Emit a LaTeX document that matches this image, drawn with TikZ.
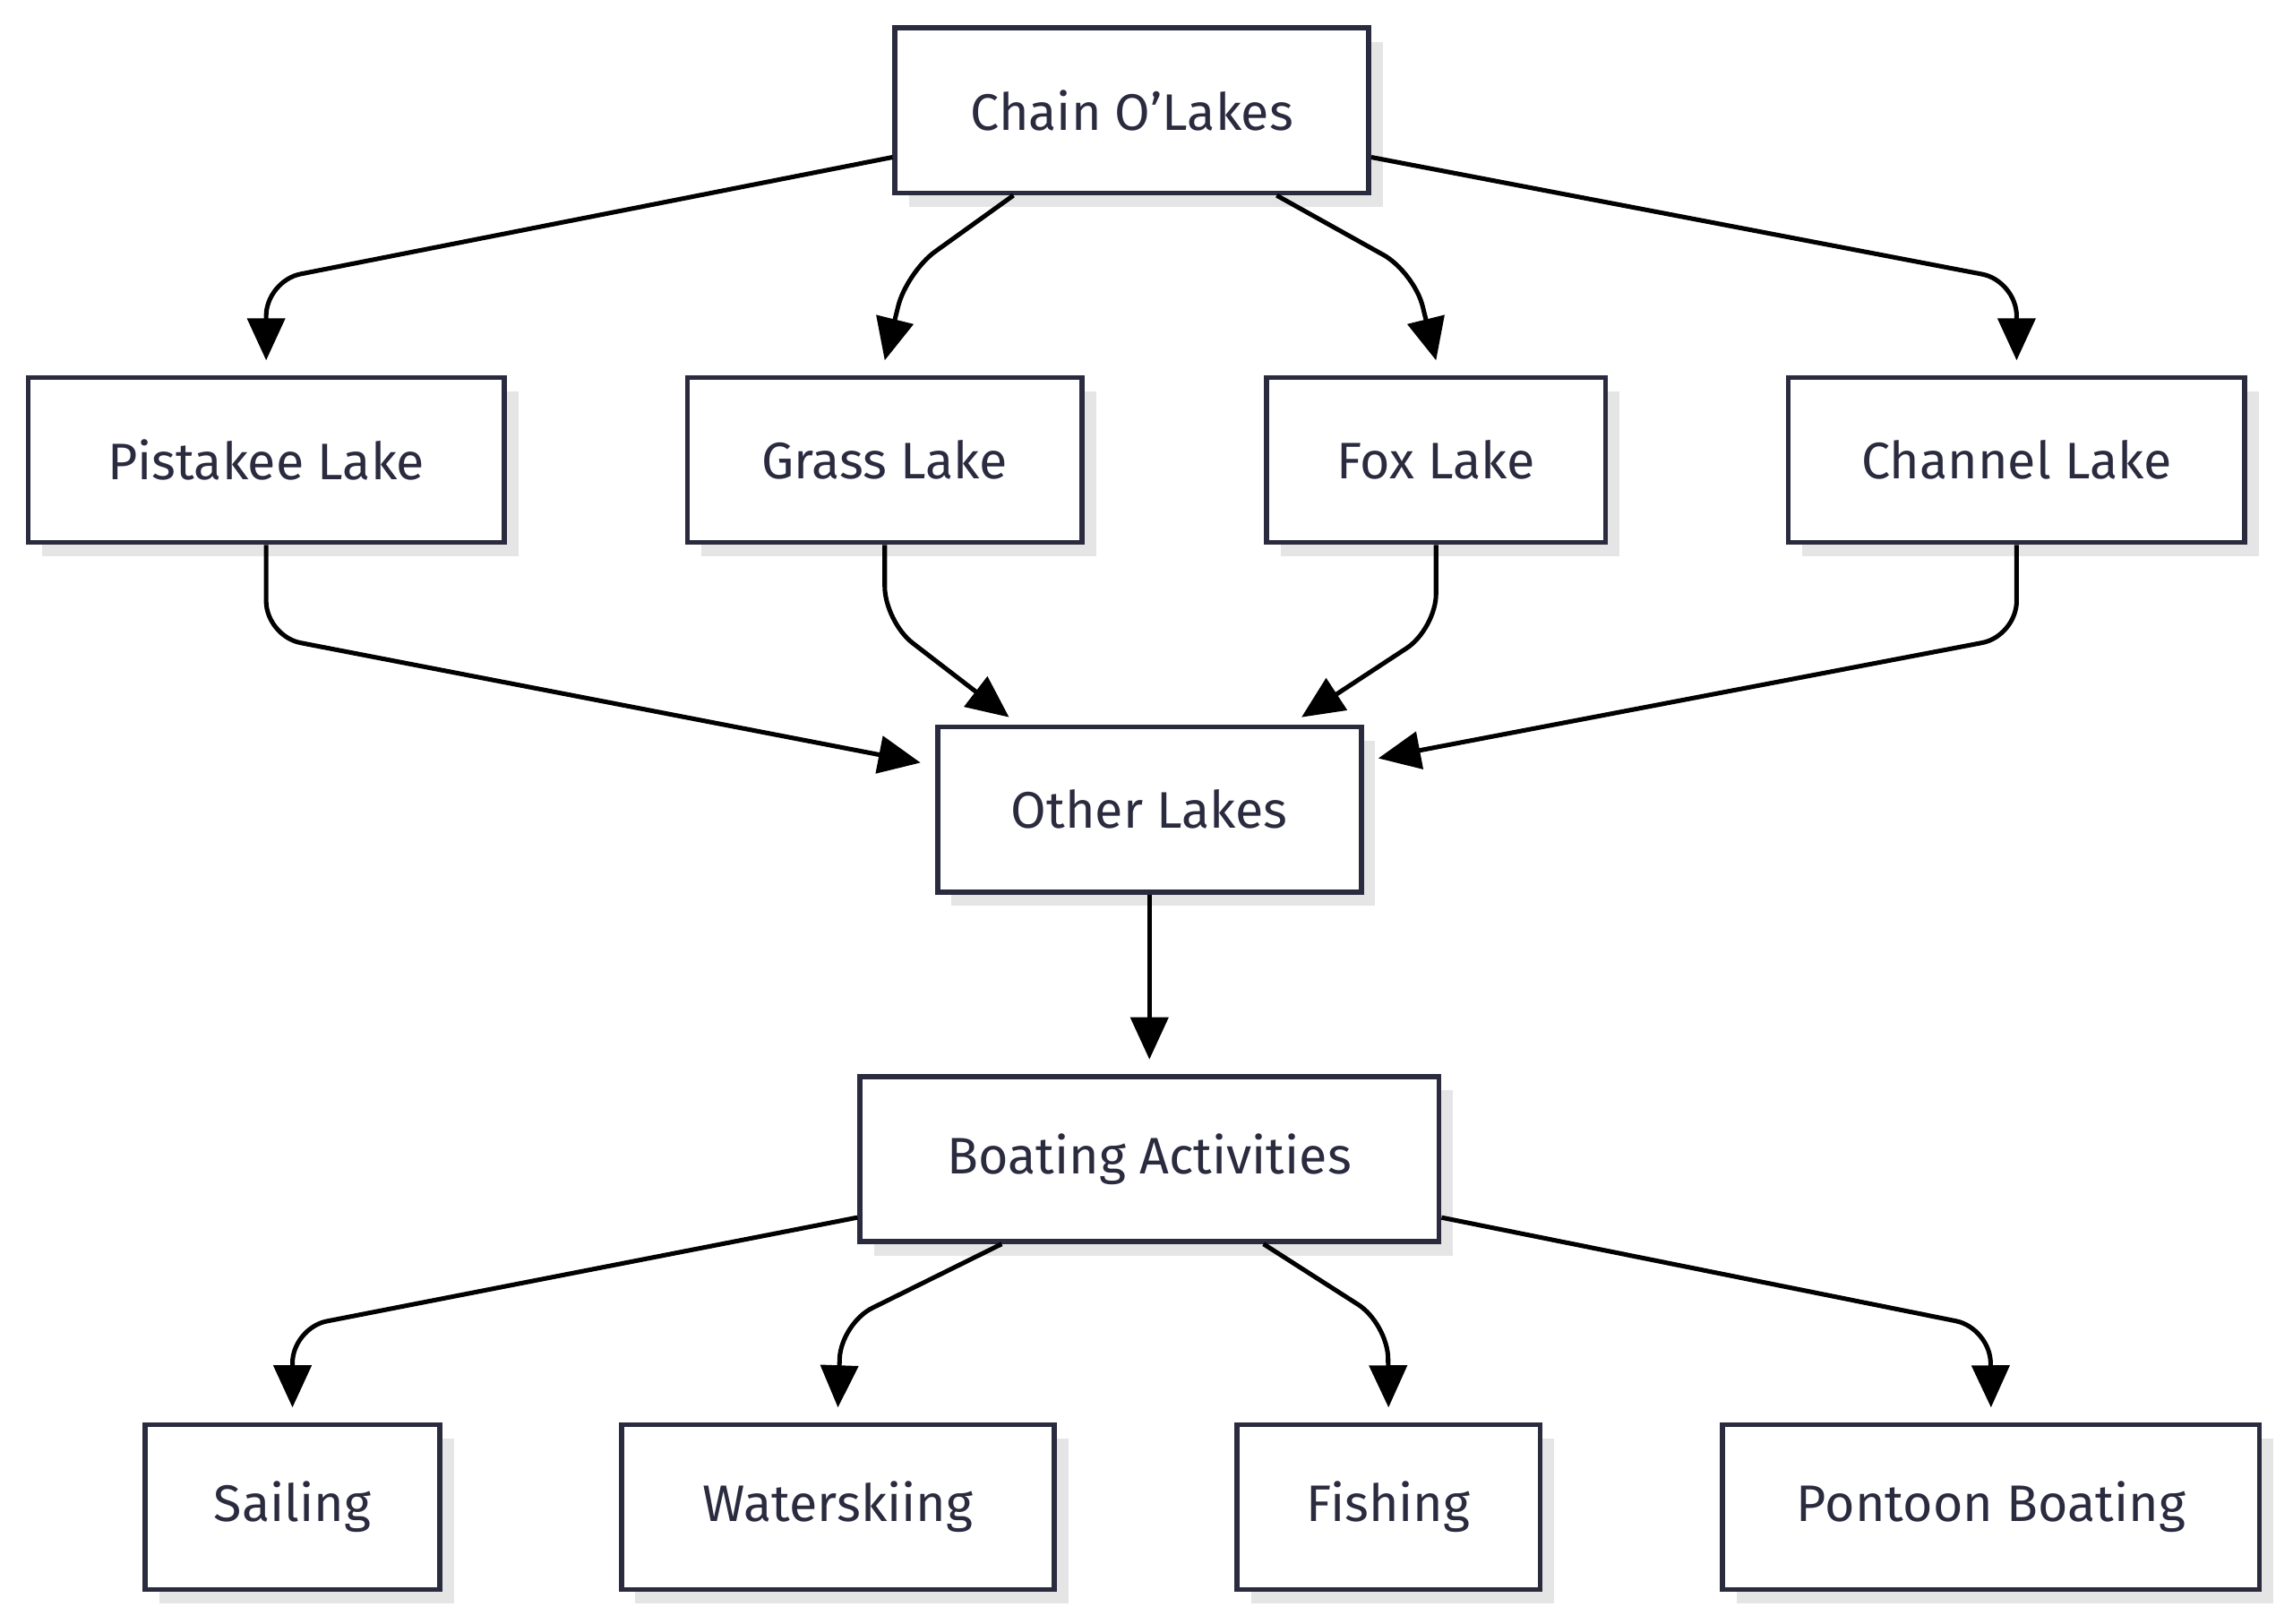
\documentclass[tikz,border=0pt]{standalone}
\usepackage{fontspec}
\setmainfont{Fira Sans}
\usetikzlibrary{calc,arrows.meta,shadows}
\definecolor{ink}{HTML}{2B2B40}
\begin{document}
\begin{tikzpicture}[x=0.0125cm,y=-0.0125cm,
  box/.style={draw=ink,line width=1.2pt,fill=white,minimum height=1.41cm,inner sep=0pt,
    font=\fontsize{12.5}{15}\selectfont,text=ink,
    drop shadow={shadow xshift=0.12cm,shadow yshift=-0.12cm,fill=black!10,opacity=1}},
  ar/.style={line width=1.1pt,rounded corners=0.3cm,-{Triangle[length=0.36cm,width=0.32cm]}}]
\useasboundingbox (0,0) rectangle (1568,1110);
\node[box,minimum width=4.05cm] (chain) at (774,75.5) {Chain O'Lakes};
\node[box,minimum width=4.07cm] (pist) at (182,314.5) {Pistakee Lake};
\node[box,minimum width=3.37cm] (grass) at (605,314.5) {Grass Lake};
\node[box,minimum width=2.9cm] (fox) at (982,314.5) {Fox Lake};
\node[box,minimum width=3.9cm] (chan) at (1379,314.5) {Channel Lake};
\node[box,minimum width=3.62cm] (other) at (786,553.5) {Other Lakes};
\node[box,minimum width=4.95cm] (boat) at (786,792.5) {Boating Activities};
\node[box,minimum width=2.52cm] (sail) at (200,1030.5) {Sailing};
\node[box,minimum width=3.7cm] (water) at (573,1030.5) {Waterskiing};
\node[box,minimum width=2.59cm] (fish) at (949.5,1030.5) {Fishing};
\node[box,minimum width=4.59cm] (pont) at (1361.5,1030.5) {Pontoon Boating};
\begin{scope}[every path/.style={ar}]
\draw ($(chain.west)+(0,32)$) -- (182,192) -- ($(pist.north)+(0,-10)$);
\draw ($(chain.south)+(-81,0)$) -- (620,186) -- ($(grass.north)+(0,-10)$);
\draw ($(chain.south)+(99,0)$) -- (967,186) -- ($(fox.north)+(0,-10)$);
\draw ($(chain.east)+(0,32)$) -- (1379,192) -- ($(chan.north)+(0,-10)$);
\draw (pist.south) -- (182,435) -- ($(other.west)+(-10,-32)$);
\draw (grass.south) -- (605,425) -- ($(other.north)+(-96,-5)$);
\draw (fox.south) -- (982,430) -- ($(other.north)+(104,-5)$);
\draw (chan.south) -- (1379,435) -- ($(other.east)+(10,-35)$);
\draw (other.south) -- ($(boat.north)+(0,-10)$);
\draw ($(boat.west)+(0,40)$) -- (200,908) -- ($(sail.north)+(0,-10)$);
\draw ($(boat.south)+(-101,0)$) -- (575,905) -- ($(water.north)+(0,-10)$);
\draw ($(boat.south)+(78,0)$) -- (949,905) -- ($(fish.north)+(0,-10)$);
\draw ($(boat.east)+(0,40)$) -- (1361,908) -- ($(pont.north)+(0,-10)$);
\end{scope}
\end{tikzpicture}
\end{document}
